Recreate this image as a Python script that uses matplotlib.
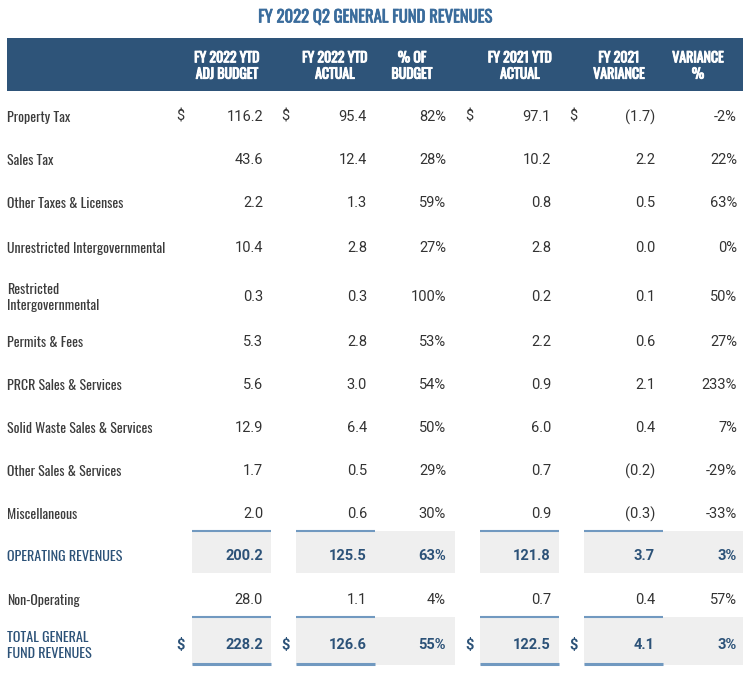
import matplotlib
matplotlib.use("Agg")
import matplotlib.pyplot as plt
from matplotlib.patches import Rectangle
import matplotlib.patheffects as pe

OSW = ['Oswald', 'Roboto Condensed', 'DejaVu Sans']
NUM = ['Roboto', 'DejaVu Sans']

title = "FY 2022 Q2 GENERAL FUND REVENUES"
headers = ["FY 2022 YTD\nADJ BUDGET", "FY 2022 YTD\nACTUAL", "% OF\nBUDGET",
           "FY 2021 YTD\nACTUAL", "FY 2021\nVARIANCE", "VARIANCE\n%"]
categories = ["Property Tax", "Sales Tax", "Other Taxes & Licenses",
              "Unrestricted Intergovernmental", "Restricted\nIntergovernmental",
              "Permits & Fees", "PRCR Sales & Services", "Solid Waste Sales & Services",
              "Other Sales & Services", "Miscellaneous", "OPERATING REVENUES",
              "Non-Operating", "TOTAL GENERAL\nFUND REVENUES"]
adj_budget_2022 = [116.2, 43.6, 2.2, 10.4, 0.3, 5.3, 5.6, 12.9, 1.7, 2.0, 200.2, 28.0, 228.2]
actual_2022 = [95.4, 12.4, 1.3, 2.8, 0.3, 2.8, 3.0, 6.4, 0.5, 0.6, 125.5, 1.1, 126.6]
pct_of_budget = [82, 28, 59, 27, 100, 53, 54, 50, 29, 30, 63, 4, 55]
actual_2021 = [97.1, 10.2, 0.8, 2.8, 0.2, 2.2, 0.9, 6.0, 0.7, 0.9, 121.8, 0.7, 122.5]
variance_2021 = [-1.7, 2.2, 0.5, 0.0, 0.1, 0.6, 2.1, 0.4, -0.2, -0.3, 3.7, 0.4, 4.1]
variance_pct = [-2, 22, 63, 0, 50, 27, 233, 7, -29, -33, 3, 57, 3]
dollar_rows = [0, 12]
total_rows = [10, 12]

HDR = '#2e5479'
TITLE_C = '#3a6c9c'
TXT = '#333333'
LBL = '#3c3c3c'
TOT = '#2c5278'
GREY = '#efefef'
LINE = '#7199c0'

W, H = 750, 679
fig = plt.figure(figsize=(W / 100, H / 100), dpi=100)
ax = fig.add_axes([0, 0, 1, 1])
ax.set_xlim(0, W)
ax.set_ylim(H, 0)
ax.axis('off')

ax.text(375, 17, title, ha='center', va='center', color=TITLE_C,
        fontsize=12, family=OSW,
        path_effects=[pe.withStroke(linewidth=0.5, foreground=TITLE_C)])

# header band
ax.add_patch(Rectangle((7, 38), 736, 53, color=HDR, lw=0))
hdr_x = [227, 335, 412, 520, 619, 698]
for x, h in zip(hdr_x, headers):
    ax.text(x, 66, h, ha='center', va='center', color='white', fontsize=10,
            family=OSW, linespacing=1.3,
            path_effects=[pe.withStroke(linewidth=0.7, foreground='white')])

row_y = [116, 159, 202, 247, 296, 341, 384, 427, 470, 513, 555, 599, 644]
box_spans = [(192, 271), (296, 375), (375, 455), (480, 559), (584, 663), (663, 743)]
value_x = [263, 367, 446, 551, 655, 737]
dollar_x = [176, 281, None, 465, 569, None]
money_cols = [0, 1, 3, 4]
band = {10: (531, 573), 12: (617, 665)}


def fmt_money(v):
    if v < 0:
        return f"({abs(v):.1f})"
    return f"{v:.1f}"


for r, (cat, y) in enumerate(zip(categories, row_y)):
    is_tot = r in total_rows
    if is_tot:
        y0, y1 = band[r]
        for ci, (a, b) in enumerate(box_spans):
            ax.add_patch(Rectangle((a, y0), b - a, y1 - y0, color=GREY, lw=0, zorder=0))
            if ci in money_cols:
                ax.plot([a, b], [y0, y0], color=LINE, lw=1.5, solid_capstyle='butt')
                if r == 12:
                    ax.plot([a, b], [y1 - 1, y1 - 1], color=LINE, lw=2.2, solid_capstyle='butt')
    ax.text(7, y + 1.5, cat, ha='left', va='center', color=TOT if is_tot else LBL,
            fontsize=10.2 if is_tot else 10, family=OSW, linespacing=1.25)
    vals = [fmt_money(adj_budget_2022[r]), fmt_money(actual_2022[r]),
            f"{pct_of_budget[r]}%", fmt_money(actual_2021[r]),
            fmt_money(variance_2021[r]), f"{variance_pct[r]}%"]
    for ci, v in enumerate(vals):
        ax.text(value_x[ci], y + 1, v, ha='right', va='center',
                color=TOT if is_tot else TXT, fontsize=10.5,
                family=NUM, fontweight='bold' if is_tot else 'normal')
        if r in dollar_rows and dollar_x[ci] is not None:
            ax.text(dollar_x[ci], y + 1, '$', ha='left', va='center',
                    color=TOT if is_tot else TXT, fontsize=10.5,
                    family=NUM, fontweight='bold' if is_tot else 'normal')

fig.savefig('out.png', dpi=100)
